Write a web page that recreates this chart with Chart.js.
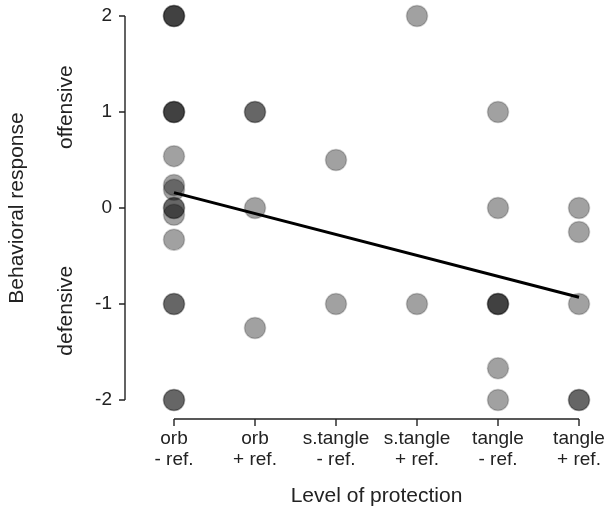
<!DOCTYPE html>
<html>
<head>
<meta charset="utf-8">
<script src="https://cdn.jsdelivr.net/npm/chart.js@4"></script>
<style>
    body { margin: 0; background: #fff; }
</style>
</head>
<body>
<canvas id="protectionChart" width="606" height="509"></canvas>
<script>
const categories = [
    ['orb', '- ref.'],
    ['orb', '+ ref.'],
    ['s.tangle', '- ref.'],
    ['s.tangle', '+ ref.'],
    ['tangle', '- ref.'],
    ['tangle', '+ ref.']
];

// one entry per spider, overlapping dots get darker
const orbNoRef = [2, 2, 2, 1, 1, 1, 0.54, 0.24, 0.19, 0, 0, -0.07, -0.33, -1, -1, -2, -2];
const orbRef = [1, 1, 0, -1.25];
const sTangleNoRef = [0.5, -1];
const sTangleRef = [2, -1];
const tangleNoRef = [1, 0, -1, -1, -1, -1.67, -2];
const tangleRef = [0, -0.25, -1, -2, -2];

const trendX = [0, 5];
const trendY = [0.16, -0.93];

const yTicks = [-2, -1, 0, 1, 2];

const FONT = "'Liberation Sans', Arial, sans-serif";
const INK = '#222';

/* ===================================================== */
/* DATA                                                    */
/* ===================================================== */

const groups = [orbNoRef, orbRef, sTangleNoRef, sTangleRef, tangleNoRef, tangleRef];
const points = [];
groups.forEach((values, i) => {
    values.forEach(v => points.push({ x: i, y: v }));
});

const trend = trendX.map((x, i) => ({ x: x, y: trendY[i] }));

/* ===================================================== */
/* AXES (offset, R style)                                  */
/* ===================================================== */

const offsetAxes = {
    id: 'offsetAxes',
    beforeDatasetsDraw(chart) {
        const ctx = chart.ctx;
        const xs = chart.scales.x;
        const ys = chart.scales.y;
        const axisX = 125;
        const axisY = 419;

        ctx.save();
        ctx.strokeStyle = INK;
        ctx.lineWidth = 1.4;

        // y axis
        ctx.beginPath();
        ctx.moveTo(axisX, ys.getPixelForValue(2));
        ctx.lineTo(axisX, ys.getPixelForValue(-2));
        yTicks.forEach(t => {
            const py = ys.getPixelForValue(t);
            ctx.moveTo(axisX, py);
            ctx.lineTo(axisX - 6, py);
        });
        ctx.stroke();

        // x axis
        ctx.beginPath();
        ctx.moveTo(xs.getPixelForValue(0), axisY);
        ctx.lineTo(xs.getPixelForValue(categories.length - 1), axisY);
        categories.forEach((c, i) => {
            const px = xs.getPixelForValue(i);
            ctx.moveTo(px, axisY);
            ctx.lineTo(px, axisY + 7);
        });
        ctx.stroke();

        // offensive / defensive
        ctx.fillStyle = INK;
        ctx.font = '21px ' + FONT;
        ctx.textAlign = 'center';
        ctx.textBaseline = 'middle';
        [['offensive', 1.05], ['defensive', -1.07]].forEach(([txt, v]) => {
            ctx.save();
            ctx.translate(66, ys.getPixelForValue(v));
            ctx.rotate(-Math.PI / 2);
            ctx.fillText(txt, 0, 0);
            ctx.restore();
        });

        ctx.restore();
    }
};

function noPadding(scale) {
    scale.paddingTop = 0;
    scale.paddingBottom = 0;
    scale.paddingLeft = 0;
    scale.paddingRight = 0;
}

/* ===================================================== */
/* CHART                                                   */
/* ===================================================== */

const ctx = document.getElementById('protectionChart').getContext('2d');

new Chart(ctx, {
    type: 'scatter',
    data: {
        datasets: [
            {
                type: 'line',
                data: trend,
                borderColor: '#000',
                borderWidth: 3,
                pointRadius: 0,
                fill: false,
                clip: false
            },
            {
                data: points,
                pointRadius: 10.5,
                pointHoverRadius: 10.5,
                backgroundColor: 'rgba(0,0,0,0.37)',
                borderColor: 'rgba(0,0,0,0.2)',
                borderWidth: 1.5,
                clip: false
            }
        ]
    },
    options: {
        responsive: false,
        animation: false,
        layout: {
            padding: { top: 16, right: 27, left: 0, bottom: 0 }
        },
        plugins: {
            legend: { display: false },
            tooltip: { enabled: false }
        },
        scales: {
            x: {
                type: 'linear',
                min: 0,
                max: 5,
                grid: { display: false, drawTicks: false },
                border: { display: false },
                ticks: {
                    stepSize: 1,
                    color: INK,
                    font: { family: FONT, size: 19, lineHeight: 1.1 },
                    padding: 28,
                    maxRotation: 0,
                    autoSkip: false,
                    callback: value => categories[value]
                },
                title: {
                    display: true,
                    text: 'Level of protection',
                    color: INK,
                    font: { family: FONT, size: 21 },
                    padding: { top: 0, bottom: 0 }
                },
                afterFit: scale => {
                    scale.height = 109;
                    noPadding(scale);
                }
            },
            y: {
                min: -2,
                max: 2,
                grid: { display: false, drawTicks: false },
                border: { display: false },
                ticks: {
                    stepSize: 1,
                    color: INK,
                    font: { family: FONT, size: 19 },
                    padding: 62
                },
                title: {
                    display: true,
                    text: 'Behavioral response',
                    color: INK,
                    font: { family: FONT, size: 21 },
                    padding: { top: 5, bottom: 0 }
                },
                afterFit: scale => {
                    scale.width = 174;
                    noPadding(scale);
                }
            }
        }
    },
    plugins: [offsetAxes]
});
</script>
</body>
</html>
